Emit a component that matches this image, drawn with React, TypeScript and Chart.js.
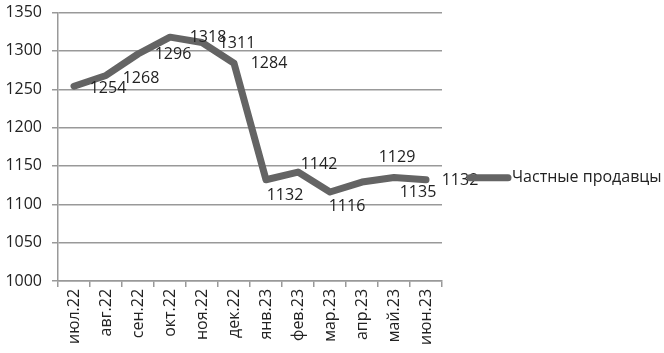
import React, { useEffect, useRef } from "react";
import { Chart, registerables } from "chart.js";

Chart.register(...registerables);

const categories = ["июл.22", "авг.22", "сен.22", "окт.22", "ноя.22", "дек.22", "янв.23", "фев.23", "мар.23", "апр.23", "май.23", "июн.23"];
const values = [1254, 1268, 1296, 1318, 1311, 1284, 1132, 1142, 1116, 1129, 1135, 1132];
const seriesName = "Частные продавцы";
const yMin = 1000;
const yMax = 1350;
const yStep = 50;

// label placement offsets (dx, dy) relative to each point, in pixels
const labelOffsets: [number, number][] = [
  [34, 2], [35, 3], [35, 0], [38, 0], [35, 1], [35, 0],
  [19, 16], [21, -8], [17, 14], [35, -25], [24, 15], [34, 1],
];

const FONT = "'Open Sans', sans-serif";
const LINE_COLOR = "#646464";
const CANVAS_SHIFT = 7;

const labelPlugin = {
  id: "pointLabels",
  afterDatasetsDraw(chart: any) {
    const ctx = chart.ctx;
    const meta = chart.getDatasetMeta(0);
    ctx.save();
    ctx.font = `16px ${FONT}`;
    ctx.fillStyle = "#222";
    ctx.textAlign = "center";
    ctx.textBaseline = "middle";
    meta.data.forEach((pt: any, i: number) => {
      const [dx, dy] = labelOffsets[i] || [0, 0];
      ctx.fillText(String(values[i]), pt.x + dx, pt.y + dy);
    });
    ctx.restore();
  },
};

const legendPlugin = {
  id: "sideLegend",
  afterDraw(chart: any) {
    const ctx = chart.ctx;
    const area = chart.chartArea;
    const y = area.top + (area.bottom - area.top) * 0.615;
    const x0 = area.right + 28;
    ctx.save();
    ctx.strokeStyle = LINE_COLOR;
    ctx.lineWidth = 7;
    ctx.lineCap = "round";
    ctx.beginPath();
    ctx.moveTo(x0, y);
    ctx.lineTo(x0 + 38, y);
    ctx.stroke();
    ctx.font = `16px ${FONT}`;
    ctx.fillStyle = "#222";
    ctx.textAlign = "left";
    ctx.textBaseline = "middle";
    ctx.fillText(chart.data.datasets[0].label, x0 + 42, y);
    ctx.restore();
  },
};

export default function App() {
  const ref = useRef<HTMLCanvasElement>(null);
  useEffect(() => {
    let chart: any = null;
    let cancelled = false;
    const make = () => {
      if (cancelled || !ref.current) return;
      chart = new Chart(ref.current, {
        type: "line",
        data: {
          labels: categories,
          datasets: [
            {
              label: seriesName,
              data: values,
              borderColor: LINE_COLOR,
              backgroundColor: LINE_COLOR,
              borderWidth: 7,
              borderCapStyle: "round",
              borderJoinStyle: "round",
              pointRadius: 0,
              pointHoverRadius: 0,
              tension: 0,
            },
          ],
        },
        options: {
          responsive: false,
          animation: false,
          layout: { padding: { left: 0, top: 0, right: 222, bottom: 6 } },
          plugins: {
            tooltip: { enabled: false },
            legend: { display: false },
          },
          scales: {
            x: {
              offset: true,
              grid: {
                offset: true,
                drawOnChartArea: false,
                drawTicks: true,
                tickLength: 6,
                color: "#999",
                lineWidth: 1.5,
              },
              border: { color: "#999", width: 1.5 },
              ticks: {
                minRotation: 90,
                maxRotation: 90,
                padding: 2,
                color: "#222",
                font: { family: FONT, size: 16 },
              },
            },
            y: {
              min: yMin,
              max: yMax,
              afterFit: (scale: any) => {
                scale.width = 58;
              },
              grid: { color: "#999", lineWidth: 1.5, tickLength: 6 },
              border: { color: "#999", width: 1.5 },
              ticks: {
                stepSize: yStep,
                padding: 10,
                color: "#222",
                font: { family: FONT, size: 16 },
                callback: (v: any) => String(v),
              },
            },
          },
        },
        plugins: [labelPlugin, legendPlugin],
      });
    };
    const fonts: any = (document as any).fonts;
    if (fonts && fonts.load) {
      fonts.load(`16px 'Open Sans'`, "Частные 1234").then(make, make);
    } else {
      make();
    }
    return () => {
      cancelled = true;
      if (chart) chart.destroy();
    };
  }, []);
  return (
    <div style={{ position: "absolute", left: 0, top: 0, width: 664, height: 353, overflow: "hidden", background: "#fff" }}>
      <canvas
        ref={ref}
        width={664}
        height={353 + CANVAS_SHIFT}
        style={{ position: "absolute", left: 0, top: -CANVAS_SHIFT }}
      />
    </div>
  );
}
